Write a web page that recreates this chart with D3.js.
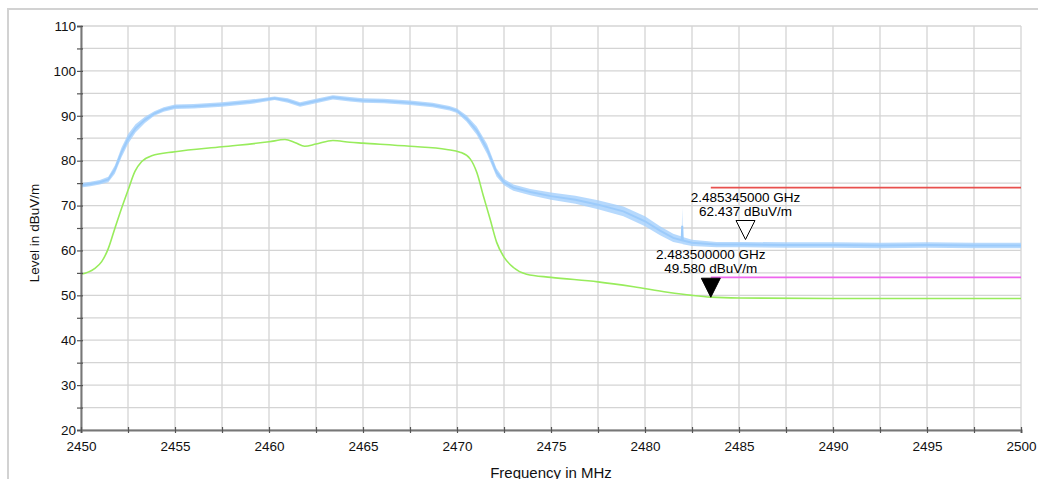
<!DOCTYPE html>
<html>
<head>
<meta charset="utf-8">
<script src="https://cdn.jsdelivr.net/npm/d3@7"></script>
<style>
  body { margin: 0; background: #fff; }
  svg { display: block; font-family: "Liberation Sans", Arial, Helvetica, sans-serif; }
</style>
</head>
<body>
<div class="spectrum"></div>
<script>
// peak trace (blue): frequency, centre level, noise half-width
var peakFreq = [2450.0, 2450.5, 2451.0, 2451.45, 2451.8, 2452.15, 2452.5, 2452.9, 2453.4, 2453.9,
    2454.4, 2455.0, 2456.0, 2457.5, 2459.0, 2460.3, 2461.0, 2461.65, 2462.5, 2463.4,
    2464.3, 2465.0, 2466.1, 2467.5, 2468.7, 2469.6, 2470.0, 2470.5, 2471.05, 2471.6,
    2472.1, 2472.5, 2473.0, 2473.9, 2475.0, 2476.3, 2477.5, 2478.85, 2480.0, 2480.8,
    2481.5, 2481.95, 2481.98, 2482.01, 2482.5, 2483.8, 2485.3, 2487.5, 2490.0, 2492.5,
    2495.0, 2497.5, 2500.0];
var peakLevel = [74.5, 74.8, 75.2, 75.8, 78.0, 81.8, 84.8, 87.2, 89.1, 90.5,
    91.4, 92.0, 92.1, 92.5, 93.1, 93.9, 93.4, 92.5, 93.3, 94.1,
    93.7, 93.4, 93.3, 92.9, 92.4, 91.7, 91.1, 89.4, 86.7, 82.6,
    77.4, 75.2, 74.0, 73.0, 72.1, 71.3, 70.2, 68.7, 66.5, 64.4,
    62.8, 62.3, 65.5, 62.2, 61.7, 61.3, 61.3, 61.2, 61.2, 61.1,
    61.2, 61.1, 61.1];
var peakSpread = [0.5, 0.5, 0.5, 0.6, 0.9, 1.1, 1.1, 0.9, 0.7, 0.5,
    0.5, 0.5, 0.5, 0.5, 0.5, 0.4, 0.5, 0.5, 0.5, 0.5,
    0.5, 0.5, 0.5, 0.5, 0.5, 0.5, 0.5, 0.7, 0.9, 1.1,
    0.9, 0.7, 0.7, 0.7, 0.8, 0.9, 1.0, 1.1, 1.1, 1.0,
    0.9, 0.8, 4.0, 0.8, 0.7, 0.6, 0.6, 0.6, 0.6, 0.6,
    0.6, 0.6, 0.6];

// average trace (green)
var avgFreq = [2450.0, 2450.7, 2451.1, 2451.45, 2451.8, 2452.15, 2452.5, 2452.87, 2453.23, 2453.76,
    2455.0, 2457.5, 2460.0, 2460.85, 2461.4, 2461.9, 2462.5, 2463.4, 2464.3, 2465.0,
    2467.5, 2469.45, 2470.16, 2470.7, 2471.05, 2471.4, 2471.76, 2472.11, 2472.5, 2473.0,
    2473.7, 2475.0, 2477.5, 2479.4, 2481.2, 2482.5, 2483.5, 2485.0, 2490.0, 2500.0];
var avgLevel = [54.7, 55.9, 57.5, 60.4, 64.9, 69.3, 73.4, 77.6, 79.8, 81.1,
    82.0, 83.1, 84.2, 84.7, 84.0, 83.2, 83.7, 84.5, 84.1, 83.9,
    83.2, 82.5, 81.9, 80.4, 77.4, 72.2, 67.0, 61.8, 58.5, 56.2,
    54.7, 54.0, 53.0, 51.9, 50.7, 50.0, 49.6, 49.4, 49.3, 49.3];

// limit lines
var limitNames = ["peak", "average"];
var limitLevel = [74, 54];
var limitStart = [2483.5, 2483.5];
var limitEnd = [2500, 2500];

// markers
var markerFreq = [2485.345, 2483.5];
var markerLevel = [62.437, 49.58];
var markerFreqLabel = ["2.485345000 GHz", "2.483500000 GHz"];
var markerLevelLabel = ["62.437 dBuV/m", "49.580 dBuV/m"];
var markerFilled = [false, true];

var xTicks = d3.range(2450, 2500.1, 2.5);
var yTicks = d3.range(20, 110.1, 5);

var width = 1038, height = 479;
var margin = { top: 26, left: 81, right: 17, bottom: 49 };
var fontSize = "13.5px";

var svg = d3.select("div.spectrum").append("svg")
    .attr("width", width)
    .attr("height", height);

// outer frame
svg.append("path")
    .attr("d", "M8," + height + "V9H" + width)
    .attr("fill", "none")
    .attr("stroke", "#d2d2d2")
    .attr("stroke-width", 2);

var x = d3.scaleLinear().domain([2450, 2500]).range([margin.left, width - margin.right]);
var y = d3.scaleLinear().domain([20, 110]).range([height - margin.bottom, margin.top]);

// grid
var grid = svg.append("g").attr("stroke", "#d4d4d4").attr("stroke-width", 1.3);
grid.selectAll("line.v").data(xTicks).enter().append("line")
    .attr("x1", d => x(d)).attr("x2", d => x(d))
    .attr("y1", y(20)).attr("y2", y(110));
grid.selectAll("line.h").data(yTicks).enter().append("line")
    .attr("x1", x(2450)).attr("x2", x(2500))
    .attr("y1", d => y(d)).attr("y2", d => y(d));

// peak trace as a noise band
var peak = peakFreq.map((f, i) => ({ f: f, v: peakLevel[i], s: peakSpread[i] }));
var band = d3.area()
    .x(d => x(d.f))
    .y0(d => y(d.v - d.s))
    .y1(d => y(d.v + d.s));
svg.append("path").datum(peak)
    .attr("d", band)
    .attr("fill", "#a4cffc")
    .attr("opacity", 0.8);
svg.append("path").datum(peak)
    .attr("d", d3.line().x(d => x(d.f)).y(d => y(d.v)))
    .attr("fill", "none")
    .attr("stroke", "#9ccbfb")
    .attr("stroke-width", 2);

// average trace
var avg = avgFreq.map((f, i) => ({ f: f, v: avgLevel[i] }));
svg.append("path").datum(avg)
    .attr("d", d3.line().x(d => x(d.f)).y(d => y(d.v)).curve(d3.curveMonotoneX))
    .attr("fill", "none")
    .attr("stroke", "#98ec5c")
    .attr("stroke-width", 1.6);

// limit lines
var limitColor = { peak: "#e8504e", average: "#ee66ee" };
svg.selectAll("line.limit").data(limitNames).enter().append("line")
    .attr("class", "limit")
    .attr("x1", (d, i) => x(limitStart[i]))
    .attr("x2", (d, i) => x(limitEnd[i]))
    .attr("y1", (d, i) => y(limitLevel[i]))
    .attr("y2", (d, i) => y(limitLevel[i]))
    .attr("stroke", d => limitColor[d])
    .attr("stroke-width", 1.6);

// axes
var yAxis = svg.append("g")
    .attr("transform", "translate(" + x(2450) + ",0)")
    .call(d3.axisLeft(y).tickValues(yTicks).tickSize(4).tickPadding(1)
        .tickFormat(d => d % 10 === 0 ? d : ""));
var xAxis = svg.append("g")
    .attr("transform", "translate(0," + y(20) + ")")
    .call(d3.axisBottom(x).tickValues(xTicks).tickSize(3).tickPadding(8)
        .tickFormat(d => d % 5 === 0 ? d : ""));

[yAxis, xAxis].forEach(function (a) {
    a.select(".domain").attr("stroke", "#777").attr("stroke-width", 2);
    a.selectAll(".tick line").attr("stroke", "#555").attr("stroke-width", 1.2);
    a.selectAll("text").attr("fill", "#111").style("font-size", fontSize)
        .style("font-family", "'Liberation Sans', Arial, Helvetica, sans-serif");
});
yAxis.selectAll(".tick line").attr("x1", 2);
xAxis.selectAll(".tick line").attr("y1", -3);

svg.append("text")
    .attr("transform", "translate(39," + ((y(20) + y(110)) / 2 + 5) + ") rotate(-90)")
    .attr("text-anchor", "middle")
    .style("font-size", fontSize)
    .attr("fill", "#111")
    .text("Level in dBuV/m");

// the reference cuts this label at the bottom edge
svg.append("text")
    .attr("x", (x(2450) + x(2500)) / 2)
    .attr("y", 478)
    .attr("text-anchor", "middle")
    .style("font-size", "15px")
    .attr("fill", "#111")
    .text("Frequency in MHz");

// markers
var markers = svg.selectAll("g.marker")
    .data(markerFreq)
    .enter()
    .append("g")
    .attr("class", "marker")
    .attr("transform", (d, i) => "translate(" + x(d) + "," + y(markerLevel[i]) + ")");

markers.append("path")
    .attr("d", "M0,0L-9.5,-19H9.5Z")
    .attr("fill", (d, i) => markerFilled[i] ? "#000" : "#fff")
    .attr("stroke", "#000")
    .attr("stroke-width", 1);

markers.append("text")
    .attr("y", -38)
    .attr("text-anchor", "middle")
    .style("font-size", fontSize)
    .text((d, i) => markerFreqLabel[i]);

markers.append("text")
    .attr("y", -24)
    .attr("text-anchor", "middle")
    .style("font-size", fontSize)
    .text((d, i) => markerLevelLabel[i]);
</script>
</body>
</html>
